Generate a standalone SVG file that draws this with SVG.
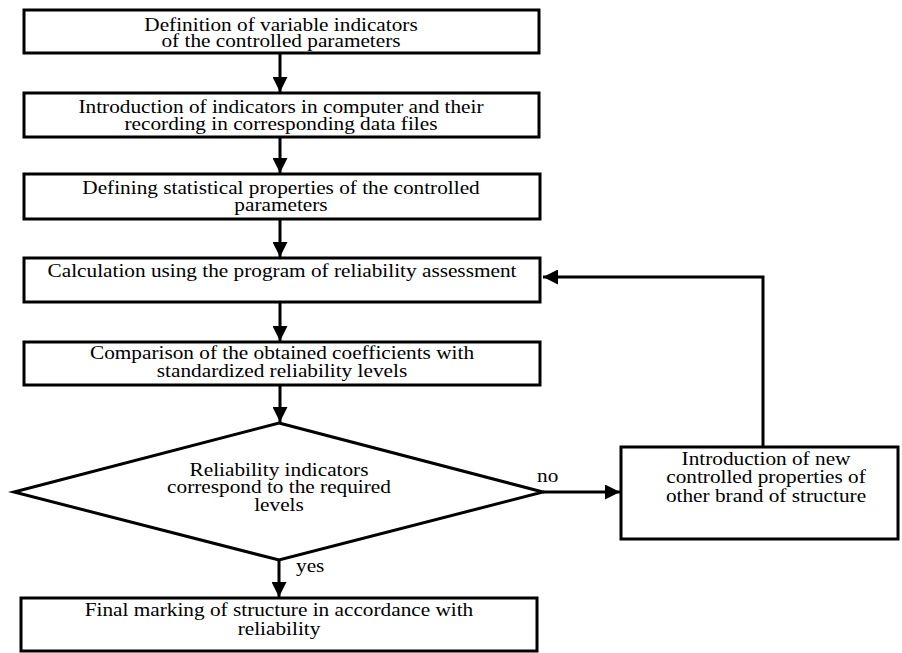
<svg xmlns="http://www.w3.org/2000/svg" width="902" height="653" viewBox="0 0 902 653">
<style>
.box{fill:#fff;stroke:#000;stroke-width:3}
text{font-family:'Liberation Serif','Times New Roman',serif;font-size:19px;fill:#000}
.t{text-anchor:middle}
.c{fill:none;stroke:#000;stroke-width:3}
</style>
<defs>
<marker id="ah" viewBox="0 0 10 10" refX="10" refY="5" markerWidth="5" markerHeight="5" markerUnits="strokeWidth" orient="auto">
<path d="M0,0 L10,5 L0,10 Z" fill="#000"/>
</marker>
</defs>
<rect width="902" height="653" fill="#fff"/>
<g id="connectors">
<line class="c" x1="280" y1="53" x2="280" y2="92" marker-end="url(#ah)"/>
<line class="c" x1="280" y1="137" x2="280" y2="173" marker-end="url(#ah)"/>
<line class="c" x1="280" y1="219" x2="280" y2="257" marker-end="url(#ah)"/>
<line class="c" x1="280" y1="302" x2="280" y2="341" marker-end="url(#ah)"/>
<line class="c" x1="280" y1="385" x2="280" y2="422" marker-end="url(#ah)"/>
<line class="c" x1="279" y1="560" x2="279" y2="597" marker-end="url(#ah)"/>
<line class="c" x1="543" y1="492" x2="620" y2="492" marker-end="url(#ah)"/>
<polyline class="c" points="763,447 763,277 543,277" marker-end="url(#ah)"/>
<text transform="translate(296,572) scale(1.12,1)">yes</text>
<text transform="translate(537,482) scale(1.12,1)">no</text>
</g>
<g id="n1">
<rect class="box" x="24" y="10" width="515" height="43"/>
<text class="t" transform="translate(281,30.5) scale(1.12,1)">Definition of variable indicators</text>
<text class="t" transform="translate(281,47) scale(1.12,1)">of the controlled parameters</text>
</g>
<g id="n2">
<rect class="box" x="24" y="93" width="515" height="44"/>
<text class="t" transform="translate(281,113) scale(1.12,1)">Introduction of indicators in computer and their</text>
<text class="t" transform="translate(281,130) scale(1.12,1)">recording in corresponding data files</text>
</g>
<g id="n3">
<rect class="box" x="24" y="174" width="516" height="45"/>
<text class="t" transform="translate(281,194) scale(1.12,1)">Defining statistical properties of the controlled</text>
<text class="t" transform="translate(281,210.5) scale(1.12,1)">parameters</text>
</g>
<g id="n4">
<rect class="box" x="24" y="258" width="516" height="44"/>
<text class="t" transform="translate(282,277) scale(1.12,1)">Calculation using the program of reliability assessment</text>
</g>
<g id="n5">
<rect class="box" x="24" y="342" width="516" height="43"/>
<text class="t" transform="translate(282,359) scale(1.12,1)">Comparison of the obtained coefficients with</text>
<text class="t" transform="translate(282,377) scale(1.12,1)">standardized reliability levels</text>
</g>
<g id="d1">
<polygon class="box" points="279,423 543,492 279,560 14,492"/>
<text class="t" transform="translate(279,476) scale(1.12,1)">Reliability indicators</text>
<text class="t" transform="translate(279,493) scale(1.12,1)">correspond to the required</text>
<text class="t" transform="translate(279,511) scale(1.12,1)">levels</text>
</g>
<g id="n6">
<rect class="box" x="621" y="447" width="277" height="92"/>
<text class="t" transform="translate(766,465) scale(1.12,1)">Introduction of new</text>
<text class="t" transform="translate(766,483) scale(1.12,1)">controlled properties of</text>
<text class="t" transform="translate(766,502) scale(1.12,1)">other brand of structure</text>
</g>
<g id="n7">
<rect class="box" x="21" y="598" width="516" height="53"/>
<text class="t" transform="translate(279,616) scale(1.12,1)">Final marking of structure in accordance with</text>
<text class="t" transform="translate(279,635) scale(1.12,1)">reliability</text>
</g>
</svg>
